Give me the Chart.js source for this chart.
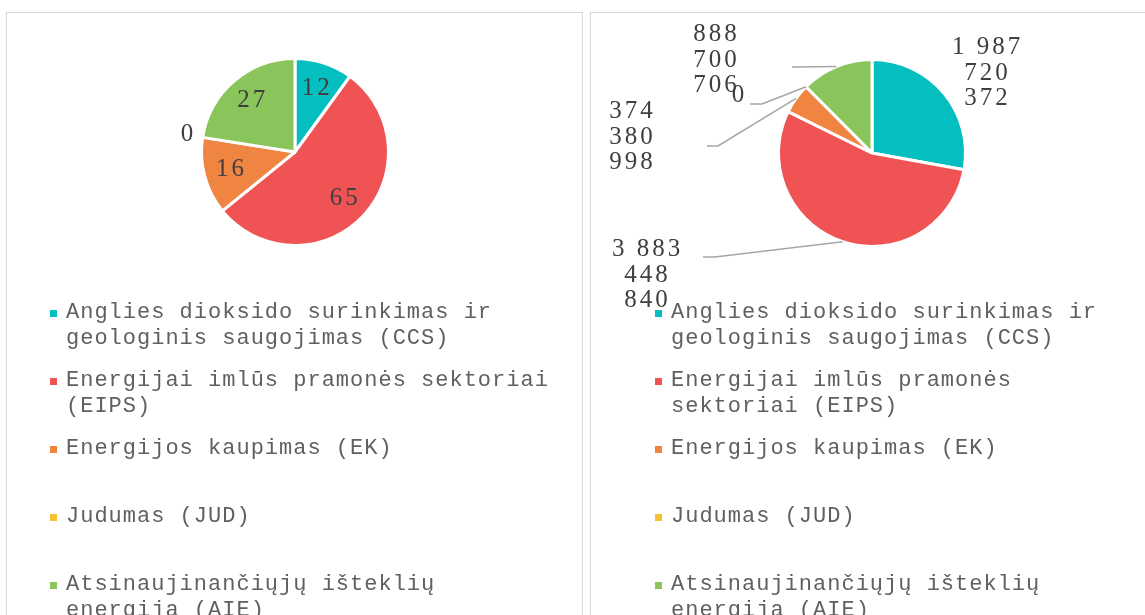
<!DOCTYPE html>
<html>
<head>
<meta charset="utf-8">
<script src="https://cdn.jsdelivr.net/npm/chart.js@4.4.0/dist/chart.umd.min.js"></script>
<style>
  body { margin: 0; width: 1145px; height: 615px; overflow: hidden; background: #fff; position: relative; }
  .panel { position: absolute; top: 12px; height: 640px; border: 1.5px solid #d9d9d9; box-sizing: border-box; }
  canvas { position: absolute; }
  .legend { position: absolute; top: 300px; font-family: 'Liberation Mono', monospace; font-size: 22px; letter-spacing: 1px; line-height: 26px; color: #606060; }
  .item { display: flex; align-items: flex-start; height: 67.9px; }
  .sw { flex: none; width: 7px; height: 7px; margin-top: 10px; margin-right: 9px; }
</style>
</head>
<body>
<div class="panel" style="left:6px;width:577px"></div>
<div class="panel" style="left:590px;width:600px"></div>
<canvas id="leftPie" width="576" height="300" style="left:6px;top:12px"></canvas>
<canvas id="rightPie" width="555" height="300" style="left:590px;top:12px"></canvas>
<div class="legend" id="leftLegend" style="left:50px"></div>
<div class="legend" id="rightLegend" style="left:655px"></div>
<script>
// categories and values
const categories = [
    'Anglies dioksido surinkimas ir geologinis saugojimas (CCS)',
    'Energijai imlūs pramonės sektoriai (EIPS)',
    'Energijos kaupimas (EK)',
    'Judumas (JUD)',
    'Atsinaujinančiųjų išteklių energija (AIE)'
];
const countValues = [12, 65, 16, 0, 27];
const amountValues = [1987720372, 3883448840, 374380998, 0, 888700706];
const sliceColors = ['#05bec0', '#f05354', '#f08441', '#f5c12e', '#89c55a'];

// label positions for the right pie (offsets from the pie centre, Excel-style placement)
const rightPlacement = [
    { label: [114, -80] },
    { label: [-226, 122], line: [[-169, 104], [-157, 104]] },
    { label: [-241, -16], line: [[-165, -7], [-154, -7]] },
    { label: [-134, -58], line: [[-122, -49], [-110, -49]] },
    { label: [-157, -93], line: [[-80, -86], [-80, -86]] }
];

function splitNumber(v) {
    const groups = [];
    let s = String(v);
    while (s.length > 3) {
        groups.unshift(s.slice(-3));
        s = s.slice(0, -3);
    }
    groups.unshift(s);
    if (groups.length > 1 && groups[0].length === 1) {
        groups.splice(0, 2, groups[0] + '\u00a0' + groups[1]);
    }
    return groups;
}

const pieLabels = {
    id: 'pieLabels',
    afterDatasetsDraw(chart, args, opts) {
        const ctx = chart.ctx;
        const meta = chart.getDatasetMeta(0);
        const values = chart.data.datasets[0].data;
        ctx.save();
        ctx.font = '25px "Liberation Serif"';
        ctx.letterSpacing = '3px';
        ctx.fillStyle = '#404040';
        ctx.textAlign = 'center';
        ctx.textBaseline = 'middle';
        meta.data.forEach((arc, i) => {
            const p = arc.getProps(['x', 'y', 'startAngle', 'endAngle', 'outerRadius'], true);
            const mid = (p.startAngle + p.endAngle) / 2;
            const place = opts.placement ? opts.placement[i] : null;
            let lx, ly;
            if (place) {
                lx = p.x + place.label[0];
                ly = p.y + place.label[1];
                if (place.line) {
                    ctx.save();
                    ctx.strokeStyle = '#a6a6a6';
                    ctx.lineWidth = 1.5;
                    ctx.beginPath();
                    ctx.moveTo(p.x + place.line[0][0], p.y + place.line[0][1]);
                    ctx.lineTo(p.x + place.line[1][0], p.y + place.line[1][1]);
                    ctx.lineTo(p.x + Math.cos(mid) * p.outerRadius, p.y + Math.sin(mid) * p.outerRadius);
                    ctx.stroke();
                    ctx.restore();
                }
            } else {
                const d = values[i] === 0 ? 1.17 : 0.72;
                lx = p.x + Math.cos(mid) * p.outerRadius * d;
                ly = p.y + Math.sin(mid) * p.outerRadius * d;
            }
            const lines = splitNumber(values[i]);
            lines.forEach((t, k) => {
                ctx.fillText(t, lx + 1.5, ly + (k - (lines.length - 1) / 2) * 25.5);
            });
        });
        ctx.restore();
    }
};

function makePie(id, values, padding, placement) {
    return new Chart(document.getElementById(id), {
        type: 'pie',
        data: {
            labels: categories,
            datasets: [{
                data: values,
                backgroundColor: sliceColors,
                borderColor: '#ffffff',
                borderWidth: 3
            }]
        },
        options: {
            responsive: false,
            animation: false,
            radius: 93.5,
            layout: { padding: padding },
            plugins: {
                legend: { display: false },
                tooltip: { enabled: false },
                pieLabels: { placement: placement }
            }
        },
        plugins: [pieLabels]
    });
}

function makeLegend(id, textWidth) {
    const box = document.getElementById(id);
    categories.forEach((name, i) => {
        const item = document.createElement('div');
        item.className = 'item';
        const sw = document.createElement('span');
        sw.className = 'sw';
        sw.style.background = sliceColors[i];
        const txt = document.createElement('span');
        txt.style.width = textWidth + 'px';
        txt.textContent = name;
        item.appendChild(sw);
        item.appendChild(txt);
        box.appendChild(item);
    });
}

makePie('leftPie', countValues, { left: 2, bottom: 20 }, null);
makePie('rightPie', amountValues, { left: 9, bottom: 18 }, rightPlacement);
makeLegend('leftLegend', 490);
makeLegend('rightLegend', 450);
</script>
</body>
</html>
